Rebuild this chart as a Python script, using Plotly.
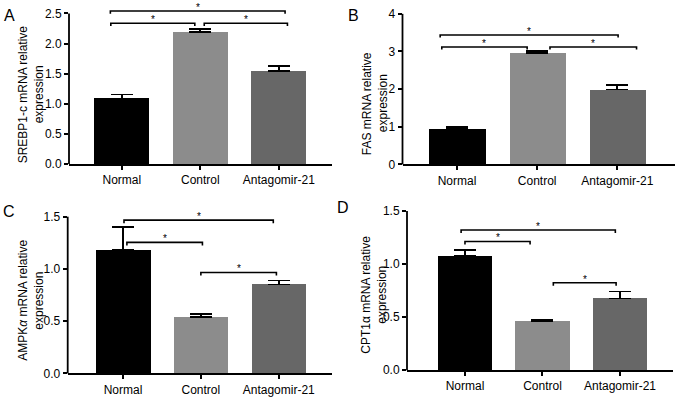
import plotly.graph_objects as go

# ---------------- data ----------------
categories = ["Normal", "Control", "Antagomir-21"]

srebp1c_mean = [1.09, 2.19, 1.54]
srebp1c_sem = [0.065, 0.05, 0.09]

fas_mean = [0.94, 2.97, 1.99]
fas_sem = [0.05, 0.04, 0.13]

ampk_mean = [1.18, 0.54, 0.85]
ampk_sem = [0.22, 0.03, 0.04]

cpt1_mean = [1.075, 0.463, 0.676]
cpt1_sem = [0.06, 0.01, 0.065]

bar_colors = ["#000000", "#8c8c8c", "#676767"]

# ---------------- layout config (pixels / positions) ----------------
W, H = 677, 403
FONT = "Liberation Sans, Arial, Helvetica, sans-serif"

panels = [
    dict(letter="A", ylabel=("SREBP1-c mRNA relative", "expression"),
         mean=srebp1c_mean, sem=srebp1c_sem,
         xpx=(69, 331.7), ypx=(2, 167), ymax=2.69, ytop=2.5, dtick=0.5, fmt=".1f",
         xrange=(-0.673, 2.674), letter_pos=(9, 16), title_x=(23, 39), title_y=96,
         brackets=[(-0.146, 2.08, 2.54), (-0.14, 0.93, 2.337), (1.05, 2.11, 2.337)],
         drop=0.045),
    dict(letter="B", ylabel=("FAS mRNA relative", "expression"),
         mean=fas_mean, sem=fas_sem,
         xpx=(402.5, 674.7), ypx=(2, 167.3), ymax=4.316, ytop=4, dtick=1, fmt="d",
         xrange=(-0.68, 2.716), letter_pos=(353, 16), title_x=(367, 383), title_y=105,
         brackets=[(-0.21, 2.01, 3.44), (-0.19, 0.875, 3.12), (1.16, 2.24, 3.12)],
         drop=0.07),
    dict(letter="C", ylabel=("AMPK<i>α</i> mRNA relative", "expression"),
         mean=ampk_mean, sem=ampk_sem,
         xpx=(67.7, 331.7), ypx=(212, 380), ymax=1.58, ytop=1.5, dtick=0.5, fmt=".1f",
         xrange=(-0.71, 2.68), letter_pos=(9, 215), title_x=(23, 39), title_y=306,
         brackets=[(0.013, 1.93, 1.467), (0.05, 1.02, 1.254), (1.0, 1.97, 0.966)],
         drop=0.03),
    dict(letter="D", ylabel=("CPT1α mRNA relative", "expression"),
         mean=cpt1_mean, sem=cpt1_sem,
         xpx=(407, 673), ypx=(208, 376.7), ymax=1.562, ytop=1.5, dtick=0.5, fmt=".1f",
         xrange=(-0.748, 2.684), letter_pos=(343, 211), title_x=(366, 382), title_y=300,
         brackets=[(-0.05, 1.94, 1.321), (0.0, 0.84, 1.213), (1.14, 1.95, 0.824)],
         drop=0.028),
]

fig = go.Figure()
shapes = []
annotations = []
xpos = list(range(len(categories)))

for i, p in enumerate(panels, start=1):
    xa = "x" if i == 1 else f"x{i}"
    ya = "y" if i == 1 else f"y{i}"
    fig.add_trace(go.Bar(
        x=xpos, y=p["mean"], width=0.7,
        marker=dict(color=bar_colors, line=dict(width=0)),
        error_y=dict(type="data", array=p["sem"], arrayminus=[0] * len(p["sem"]),
                     symmetric=False, color="#000000", thickness=1.8, width=11),
        xaxis=xa, yaxis=ya, showlegend=False, hoverinfo="skip",
    ))
    xd = [p["xpx"][0] / W, p["xpx"][1] / W]
    yd = [1 - p["ypx"][1] / H, 1 - p["ypx"][0] / H]
    xkey = "xaxis" if i == 1 else f"xaxis{i}"
    ykey = "yaxis" if i == 1 else f"yaxis{i}"
    fig.update_layout({
        xkey: dict(domain=xd, anchor=ya, range=list(p["xrange"]),
                   tickvals=xpos, ticktext=categories, ticks="outside",
                   ticklen=4, tickwidth=1.6, tickcolor="#000",
                   showline=True, linecolor="#000", linewidth=1.8,
                   showgrid=False, zeroline=False, fixedrange=True,
                   tickfont=dict(size=12, color="#000", family=FONT)),
        ykey: dict(domain=yd, anchor=xa, range=[0, p["ymax"]],
                   tickmode="linear", tick0=0, dtick=p["dtick"],
                   tickformat=p["fmt"], ticks="outside", ticklen=4,
                   tickwidth=1.6, tickcolor="#000", showline=False,
                   showgrid=False, zeroline=False, fixedrange=True,
                   tickfont=dict(size=12, color="#000", family=FONT)),
    })
    # y axis line up to the top tick only
    shapes.append(dict(type="line", xref=f"{xa} domain", yref=f"{ya} domain",
                       x0=0, x1=0, y0=0, y1=p["ytop"] / p["ymax"],
                       line=dict(color="#000", width=1.8)))
    # significance brackets
    for (b0, b1, by) in p["brackets"]:
        d = p["drop"]
        shapes.append(dict(type="path", xref=xa, yref=ya,
                           path=f"M {b0},{by - d} L {b0},{by} L {b1},{by} L {b1},{by - d}",
                           line=dict(color="#000", width=1.6)))
        annotations.append(dict(x=(b0 + b1) / 2, y=by, xref=xa, yref=ya,
                                text="*", showarrow=False, yanchor="bottom",
                                yshift=-4, font=dict(size=10, color="#000", family=FONT)))
    # panel letter
    annotations.append(dict(x=p["letter_pos"][0] / W, y=1 - p["letter_pos"][1] / H,
                            xref="paper", yref="paper", text=p["letter"],
                            showarrow=False, xanchor="center", yanchor="middle",
                            font=dict(size=16, color="#000", family=FONT)))
    # y axis title (two rotated lines)
    for line_text, tx in zip(p["ylabel"], p["title_x"]):
        annotations.append(dict(x=tx / W, y=1 - p["title_y"] / H,
                                xref="paper", yref="paper", text=line_text,
                                textangle=-90, showarrow=False, xanchor="center",
                                yanchor="middle",
                                font=dict(size=12, color="#000", family=FONT)))

fig.update_layout(
    width=W, height=H, margin=dict(l=0, r=0, t=0, b=0),
    paper_bgcolor="#ffffff", plot_bgcolor="#ffffff",
    shapes=shapes, annotations=annotations, bargap=0,
    font=dict(family=FONT, color="#000"),
)

fig.write_html("out.html",
               config={"displayModeBar": False},
               post_script="document.body.style.margin='0';document.body.style.padding='0';")
